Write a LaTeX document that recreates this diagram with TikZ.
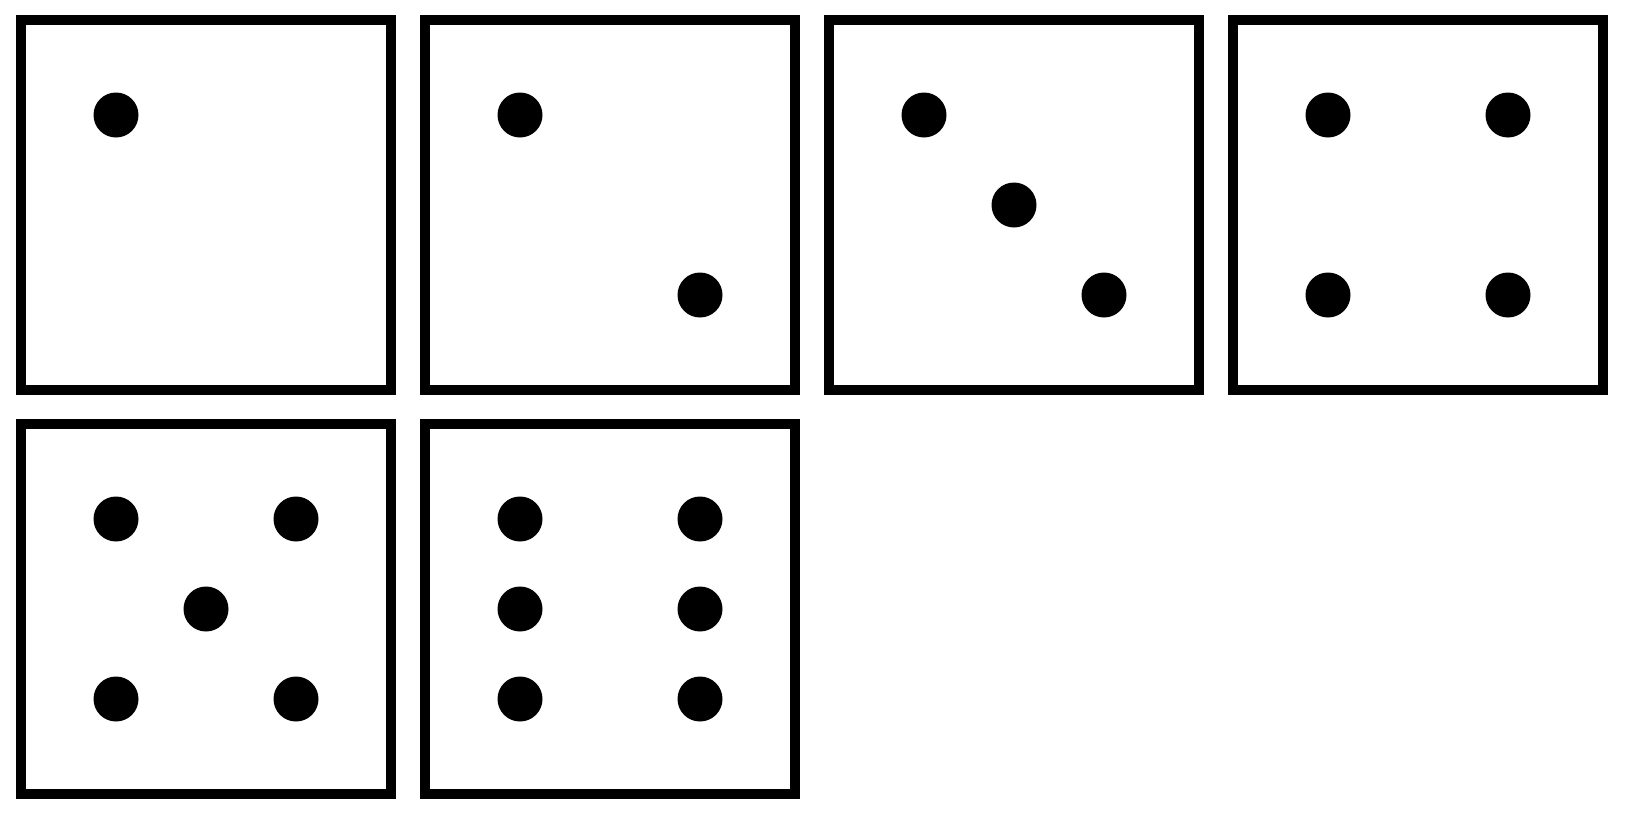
\documentclass[tikz,border=0pt]{standalone}
\begin{document}
\begin{tikzpicture}[x=0.5pt,y=-0.5pt,
  face/.style={draw=black,line width=5pt,minimum size=185pt,inner sep=0pt,outer sep=0pt,fill=white},
  pip/.style={circle,fill=black,minimum size=22.5pt,inner sep=0pt,outer sep=0pt}]
\useasboundingbox[fill=white] (0,0) rectangle (1634,825);
% faces
\node[face] (f1) at (206,205) {};
\node[face] (f2) at (610,205) {};
\node[face] (f3) at (1014,205) {};
\node[face] (f4) at (1418,205) {};
\node[face] (f5) at (206,609) {};
\node[face] (f6) at (610,609) {};
% pips: offsets of 90px from the face centre
\node[pip] (p1a) at ([shift={(-90,-90)}]f1.center) {};
\node[pip] (p2a) at ([shift={(-90,-90)}]f2.center) {};
\node[pip] (p2b) at ([shift={(90,90)}]f2.center) {};
\node[pip] (p3a) at ([shift={(-90,-90)}]f3.center) {};
\node[pip] (p3b) at (f3.center) {};
\node[pip] (p3c) at ([shift={(90,90)}]f3.center) {};
\node[pip] (p4a) at ([shift={(-90,-90)}]f4.center) {};
\node[pip] (p4b) at ([shift={(90,-90)}]f4.center) {};
\node[pip] (p4c) at ([shift={(-90,90)}]f4.center) {};
\node[pip] (p4d) at ([shift={(90,90)}]f4.center) {};
\node[pip] (p5a) at ([shift={(-90,-90)}]f5.center) {};
\node[pip] (p5b) at ([shift={(90,-90)}]f5.center) {};
\node[pip] (p5c) at (f5.center) {};
\node[pip] (p5d) at ([shift={(-90,90)}]f5.center) {};
\node[pip] (p5e) at ([shift={(90,90)}]f5.center) {};
\node[pip] (p6a) at ([shift={(-90,-90)}]f6.center) {};
\node[pip] (p6b) at ([shift={(90,-90)}]f6.center) {};
\node[pip] (p6c) at ([shift={(-90,0)}]f6.center) {};
\node[pip] (p6d) at ([shift={(90,0)}]f6.center) {};
\node[pip] (p6e) at ([shift={(-90,90)}]f6.center) {};
\node[pip] (p6f) at ([shift={(90,90)}]f6.center) {};
\end{tikzpicture}
\end{document}
